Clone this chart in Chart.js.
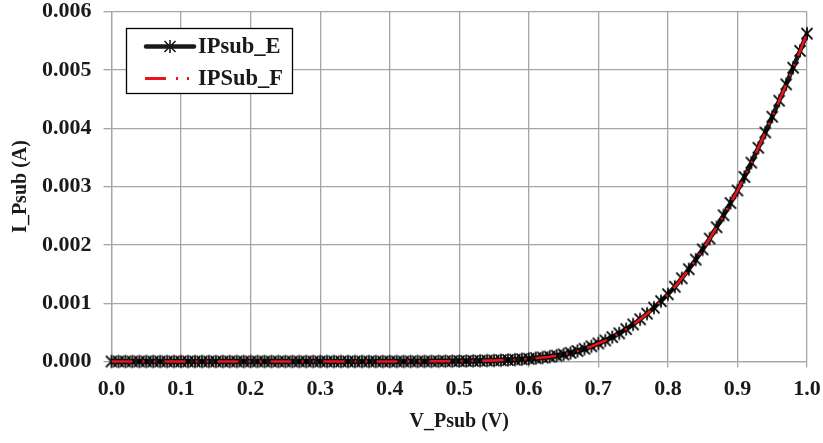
<!DOCTYPE html>
<html>
<head>
<meta charset="utf-8">
<script src="https://cdn.jsdelivr.net/npm/chart.js@4/dist/chart.umd.min.js"></script>
<style>
  html, body { margin: 0; padding: 0; background: #fff; }
  #wrap { width: 823px; height: 443px; }
</style>
</head>
<body>
<div id="wrap"><canvas id="ivChart" width="823" height="443"></canvas></div>
<script>
// sweep voltage (V)
var voltage = [
    0.00, 0.01, 0.02, 0.03, 0.04, 0.05, 0.06, 0.07, 0.08, 0.09,
    0.10, 0.11, 0.12, 0.13, 0.14, 0.15, 0.16, 0.17, 0.18, 0.19,
    0.20, 0.21, 0.22, 0.23, 0.24, 0.25, 0.26, 0.27, 0.28, 0.29,
    0.30, 0.31, 0.32, 0.33, 0.34, 0.35, 0.36, 0.37, 0.38, 0.39,
    0.40, 0.41, 0.42, 0.43, 0.44, 0.45, 0.46, 0.47, 0.48, 0.49,
    0.50, 0.51, 0.52, 0.53, 0.54, 0.55, 0.56, 0.57, 0.58, 0.59,
    0.60, 0.61, 0.62, 0.63, 0.64, 0.65, 0.66, 0.67, 0.68, 0.69,
    0.70, 0.71, 0.72, 0.73, 0.74, 0.75, 0.76, 0.77, 0.78, 0.79,
    0.80, 0.81, 0.82, 0.83, 0.84, 0.85, 0.86, 0.87, 0.88, 0.89,
    0.90, 0.91, 0.92, 0.93, 0.94, 0.95, 0.96, 0.97, 0.98, 0.99,
    1.00
];

// IPsub_E (A)
var ipsubE = [
    0, 0, 0, 0, 0, 0, 0, 0, 0, 0,
    0, 0, 0, 0, 0, 0, 0, 0, 0, 0,
    0, 0, 0, 0, 0, 0, 0, 0, 0, 0,
    0, 0, 0, 0, 0, 0, 0, 0, 0, 0,
    0.000001, 0.000001, 0.000001, 0.000002, 0.000002, 0.000002, 0.000003, 0.000004, 0.000005, 0.000006,
    0.000007, 0.000008, 0.000010, 0.000012, 0.000015, 0.000018, 0.000022, 0.000026, 0.000032, 0.000039,
    0.000047, 0.000057, 0.000069, 0.000083, 0.000100, 0.000121, 0.000148, 0.000180, 0.000218, 0.000261,
    0.000310, 0.000360, 0.000418, 0.000483, 0.000556, 0.000636, 0.000724, 0.000820, 0.000923, 0.001034,
    0.001152, 0.001282, 0.001427, 0.001582, 0.001747, 0.001922, 0.002107, 0.002302, 0.002507, 0.002717,
    0.002932, 0.003164, 0.003409, 0.003664, 0.003926, 0.004196, 0.004471, 0.004751, 0.005036, 0.005326,
    0.005621
];

// IPSub_F (A)
var ipsubF = [
    0, 0, 0, 0, 0, 0, 0, 0, 0, 0,
    0, 0, 0, 0, 0, 0, 0, 0, 0, 0,
    0, 0, 0, 0, 0, 0, 0, 0, 0, 0,
    0, 0, 0, 0, 0, 0, 0, 0, 0, 0,
    0.000001, 0.000001, 0.000001, 0.000002, 0.000002, 0.000002, 0.000003, 0.000004, 0.000005, 0.000006,
    0.000007, 0.000008, 0.000010, 0.000012, 0.000015, 0.000018, 0.000021, 0.000026, 0.000031, 0.000038,
    0.000046, 0.000056, 0.000068, 0.000082, 0.000099, 0.000120, 0.000146, 0.000178, 0.000216, 0.000259,
    0.000308, 0.000358, 0.000416, 0.000481, 0.000554, 0.000634, 0.000722, 0.000818, 0.000921, 0.001032,
    0.001150, 0.001280, 0.001425, 0.001580, 0.001745, 0.001920, 0.002105, 0.002300, 0.002505, 0.002715,
    0.002930, 0.003162, 0.003407, 0.003662, 0.003924, 0.004194, 0.004469, 0.004749, 0.005034, 0.005324,
    0.005619
];

var xTicks = [0, 0.1, 0.2, 0.3, 0.4, 0.5, 0.6, 0.7, 0.8, 0.9, 1.0];
var yTicks = [0, 0.001, 0.002, 0.003, 0.004, 0.005, 0.006];

var seriesNames = ['IPsub_E', 'IPSub_F'];

var FONT = 'Liberation Serif, "Times New Roman", serif';
var GRID = '#a6a6a6';
var INK = '#1a1a1a';
var RED = '#e8141b';
var redDash = [21, 10, 2, 9, 2, 9];

function toPoints(ys) {
    return voltage.map(function(v, i) { return { x: v, y: ys[i] }; });
}

// asterisk like the excel marker: an X with a vertical bar
function drawStar(ctx, x, y, r) {
    ctx.beginPath();
    ctx.moveTo(x, y - r); ctx.lineTo(x, y + r);
    var d = r * 0.85;
    ctx.moveTo(x - d, y - d); ctx.lineTo(x + d, y + d);
    ctx.moveTo(x - d, y + d); ctx.lineTo(x + d, y - d);
    ctx.stroke();
}

var markerImg = document.createElement('canvas');
markerImg.width = 16;
markerImg.height = 16;
(function() {
    var m = markerImg.getContext('2d');
    m.strokeStyle = '#000';
    m.lineWidth = 1.7;
    drawStar(m, 8, 8, 6.5);
})();

// legend with a black frame, drawn inside the plot
var boxLegend = {
    id: 'boxLegend',
    afterDraw: function(chart) {
        var ctx = chart.ctx;
        var left = 126, top = 28, w = 166, h = 65;
        ctx.save();
        ctx.fillStyle = '#fff';
        ctx.fillRect(left, top, w, h);
        ctx.strokeStyle = '#000';
        ctx.lineWidth = 1.3;
        ctx.strokeRect(left + 0.5, top + 0.5, w, h);

        // row 1: black line with asterisk
        var y1 = 46.5;
        ctx.strokeStyle = INK;
        ctx.lineWidth = 4.5;
        ctx.lineCap = 'round';
        ctx.beginPath(); ctx.moveTo(146, y1); ctx.lineTo(194, y1); ctx.stroke();
        ctx.lineWidth = 1.6;
        ctx.lineCap = 'butt';
        drawStar(ctx, 170, y1, 6.5);

        // row 2: red dash-dot
        var y2 = 78.5;
        ctx.strokeStyle = RED;
        ctx.lineWidth = 2.8;
        ctx.setLineDash(redDash);
        ctx.beginPath(); ctx.moveTo(145, y2); ctx.lineTo(195, y2); ctx.stroke();
        ctx.setLineDash([]);

        ctx.fillStyle = INK;
        ctx.font = 'bold 22.5px ' + FONT;
        ctx.textBaseline = 'middle';
        ctx.textAlign = 'left';
        ctx.fillText(seriesNames[0], 198, y1 + 1);
        ctx.fillText(seriesNames[1], 198, y2 + 1);
        ctx.restore();
    }
};

var ctx = document.getElementById('ivChart').getContext('2d');

var chart = new Chart(ctx, {
    type: 'line',
    data: {
        datasets: [
            {
                label: seriesNames[0],
                data: toPoints(ipsubE),
                order: 2,
                borderColor: INK,
                borderWidth: 4.5,
                pointStyle: markerImg,
                pointRadius: 7,
                tension: 0,
                clip: false
            },
            {
                label: seriesNames[1],
                data: toPoints(ipsubF),
                order: 1,
                borderColor: RED,
                borderWidth: 2.6,
                borderDash: redDash,
                pointRadius: 0,
                tension: 0,
                clip: false
            }
        ]
    },
    options: {
        responsive: false,
        animation: false,
        events: [],
        layout: { padding: { top: 11, right: 16, left: 0, bottom: 0 } },
        plugins: {
            legend: { display: false },
            tooltip: { enabled: false }
        },
        scales: {
            x: {
                type: 'linear',
                min: 0,
                max: 1,
                afterBuildTicks: function(scale) {
                    scale.ticks = xTicks.map(function(v) { return { value: v }; });
                },
                afterFit: function(scale) {
                    scale.height = 81.5;
                    scale.paddingLeft = 0;
                    scale.paddingRight = 0;
                },
                ticks: {
                    color: INK,
                    font: { family: FONT, size: 22, weight: 'bold' },
                    padding: 9,
                    maxRotation: 0,
                    callback: function(value) { return value.toFixed(1); }
                },
                grid: { color: GRID, lineWidth: 1.3, tickLength: 6 },
                border: { color: GRID, width: 1.3 },
                title: {
                    display: true,
                    text: 'V_Psub (V)',
                    color: INK,
                    font: { family: FONT, size: 20, weight: 'bold' },
                    padding: { top: 0, bottom: 9 }
                }
            },
            y: {
                min: 0,
                max: 0.006,
                afterBuildTicks: function(scale) {
                    scale.ticks = yTicks.map(function(v) { return { value: v }; });
                },
                afterFit: function(scale) {
                    scale.width = 111.5;
                    scale.paddingTop = 0;
                    scale.paddingBottom = 0;
                },
                ticks: {
                    color: INK,
                    font: { family: FONT, size: 22, weight: 'bold' },
                    padding: 12,
                    callback: function(value) { return value.toFixed(3); }
                },
                grid: { color: GRID, lineWidth: 1.3, tickLength: 8 },
                border: { color: GRID, width: 1.3 },
                title: {
                    display: true,
                    text: 'I_Psub (A)',
                    color: INK,
                    font: { family: FONT, size: 20, weight: 'bold' },
                    padding: { top: 9, bottom: 0 }
                }
            }
        }
    },
    plugins: [boxLegend]
});
</script>
</body>
</html>
